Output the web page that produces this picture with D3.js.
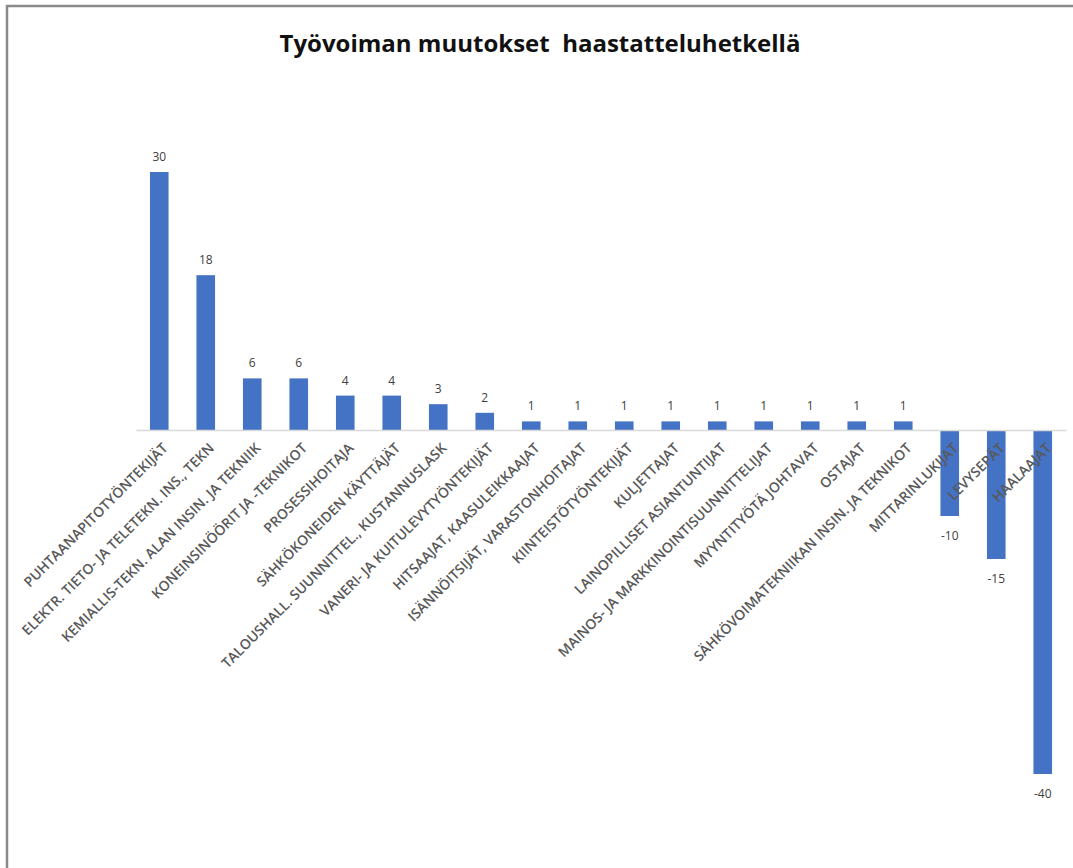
<!DOCTYPE html>
<html>
<head>
<meta charset="utf-8">
<script src="https://cdn.jsdelivr.net/npm/d3@7"></script>
<style>
  body { margin: 0; background: #fff; }
  svg { display: block; }
</style>
</head>
<body>
<div class="chart"></div>
<script>
// data
const titleText = "Työvoiman muutokset  haastatteluhetkellä"
const occupations = [
  "PUHTAANAPITOTYÖNTEKIJÄT",
  "ELEKTR. TIETO- JA TELETEKN. INS., TEKN",
  "KEMIALLIS-TEKN. ALAN INSIN. JA TEKNIIK",
  "KONEINSINÖÖRIT JA -TEKNIKOT",
  "PROSESSIHOITAJA",
  "SÄHKÖKONEIDEN KÄYTTÄJÄT",
  "TALOUSHALL. SUUNNITTEL., KUSTANNUSLASK",
  "VANERI- JA KUITULEVYTYÖNTEKIJÄT",
  "HITSAAJAT, KAASULEIKKAAJAT",
  "ISÄNNÖITSIJÄT, VARASTONHOITAJAT",
  "KIINTEISTÖTYÖNTEKIJÄT",
  "KULJETTAJAT",
  "LAINOPILLISET ASIANTUNTIJAT",
  "MAINOS- JA MARKKINOINTISUUNNITTELIJAT",
  "MYYNTITYÖTÄ JOHTAVAT",
  "OSTAJAT",
  "SÄHKÖVOIMATEKNIIKAN INSIN. JA TEKNIKOT",
  "MITTARINLUKIJAT",
  "LEVYSEPÄT",
  "HAALAAJAT"
]
const changes = [30, 18, 6, 6, 4, 4, 3, 2, 1, 1, 1, 1, 1, 1, 1, 1, 1, -10, -15, -40]

const width = 1073
const height = 868

const svg = d3.select(".chart")
  .append("svg")
    .attr("width", width)
    .attr("height", height)

// chart frame (only top and left edges show in the picture)
svg.append("line")
  .attr("x1", 6).attr("x2", width).attr("y1", 6).attr("y2", 6)
  .attr("stroke", "#8a8a8a").attr("stroke-width", 2.5)
svg.append("line")
  .attr("x1", 7).attr("x2", 7).attr("y1", 5).attr("y2", height)
  .attr("stroke", "#8a8a8a").attr("stroke-width", 2.5)

svg.append("text")
  .attr("x", 540)
  .attr("y", 52)
  .attr("text-anchor", "middle")
  .style("white-space", "pre")
  .style("font-family", "'Open Sans', sans-serif")
  .style("font-weight", "bold")
  .style("font-size", "24px")
  .style("fill", "#111")
  .text(titleText)

const x = d3.scaleBand()
  .domain(occupations)
  .range([136, 1066])
  .paddingInner(0.6)
  .paddingOuter(0.3)

const y = d3.scaleLinear()
  .domain([-40, 30])
  .range([774, 172])

// bars
svg.selectAll("rect.bar")
  .data(occupations)
  .join("rect")
    .attr("class", "bar")
    .attr("x", d => x(d))
    .attr("width", x.bandwidth())
    .attr("y", (d, i) => Math.min(y(changes[i]), y(0)))
    .attr("height", (d, i) => Math.abs(y(changes[i]) - y(0)))
    .attr("fill", "#4472c4")

// zero axis
const axis = svg.append("g")
  .attr("transform", `translate(0,${y(0)})`)
  .call(d3.axisBottom(x).tickSize(0).tickSizeOuter(0).tickPadding(0))
axis.select(".domain")
  .attr("stroke", "#d9d9d9")
  .attr("stroke-width", 1.5)
axis.selectAll(".tick text")
  .attr("text-anchor", "end")
  .attr("dy", 0)
  .attr("transform", d => `translate(${x.bandwidth() / 2},19) rotate(-45)`)
  .style("font-family", "'Open Sans', sans-serif")
  .style("font-weight", "600")
  .style("font-size", "14px")
  .style("fill", "#595959")

// value labels
svg.selectAll("text.value")
  .data(occupations)
  .join("text")
    .attr("class", "value")
    .attr("x", d => x(d) + x.bandwidth() / 2)
    .attr("y", (d, i) => changes[i] >= 0 ? y(changes[i]) - 11 : y(changes[i]) + 24)
    .attr("text-anchor", "middle")
    .style("font-family", "'Open Sans', sans-serif")
    .style("font-size", "12px")
    .style("fill", "#404040")
    .text((d, i) => changes[i])
</script>
</body>
</html>
